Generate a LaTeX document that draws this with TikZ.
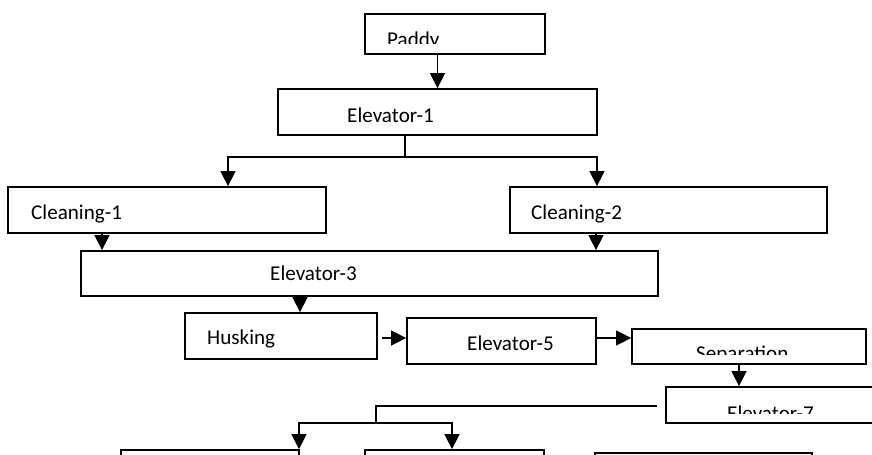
\documentclass[tikz,border=0pt]{standalone}
\usepackage{fontspec}
\setmainfont{Carlito}
\usepackage{tikz}
\usetikzlibrary{arrows.meta,positioning}
\tikzstyle{box} = [draw, line width=1.5pt, inner sep=0pt, minimum height=1.38cm]
\tikzstyle{lbl} = [inner sep=0pt, anchor=base west, font=\fontsize{18}{22}\selectfont]
\tikzstyle{arrow} = [line width=1.2pt, -{Triangle[length=0.45cm,width=0.45cm]}]
\tikzstyle{line} = [line width=1.2pt]

\begin{document}
\begin{tikzpicture}[x=0.03cm, y=-0.03cm]
\useasboundingbox (0,0) rectangle (872,455);
\clip (0,0) rectangle (872,455);

% Top
\node[box, minimum width=5.4cm, minimum height=1.2cm] (paddy) at (455,34) {};
\node[box, minimum width=9.57cm] (elev1) at (437.5,112) {};

% Cleaning
\node[box, minimum width=9.54cm] (clean1) at (167,210) {};
\node[box, minimum width=9.51cm] (clean2) at (668.5,210) {};
\node[box, minimum width=17.31cm, minimum height=1.35cm] (elev3) at (369.5,273.5) {};

% Husking line
\node[box, minimum width=5.76cm] (husk) at (281,336) {};
\node[box, minimum width=5.67cm] (elev5) at (501.5,341) {};
\node[box, minimum width=7.02cm, minimum height=1.05cm] (sep) at (749,346.5) {};
\node[box, minimum width=7.02cm, minimum height=1.08cm] (elev7) at (783,405) {};

% Bottom (cut off)
\node[box, minimum width=5.34cm] (out1) at (210,473) {};
\node[box, minimum width=5.37cm] (out2) at (454.5,473) {};
\node[box, minimum width=6.51cm] (out3) at (703.5,476) {};

% Labels
\node[lbl] (elev1txt) at (347,123) {Elevator-1};
\node[lbl] (clean1txt) at (31,219) {Cleaning-1};
\node[lbl] (clean2txt) at (531,219) {Cleaning-2};
\node[lbl] (elev3txt) at (270,280) {Elevator-3};
\node[lbl] (husktxt) at (207,344) {Husking};
\node[lbl] (elev5txt) at (467,350) {Elevator-5};

\begin{scope}
\clip (paddy.north west) rectangle (paddy.east |- 0,44);
\node[lbl] (paddytxt) at (387,46.6) {Paddy};
\end{scope}
\begin{scope}
\clip (sep.north west) rectangle (sep.east |- 0,354);
\node[lbl] (septxt) at (696,360.6) {Separation};
\end{scope}
\begin{scope}
\clip (elev7.north west) rectangle (elev7.east |- 0,413);
\node[lbl] (elev7txt) at (727,420.6) {Elevator-7};
\end{scope}

% Connections
\coordinate (fork1) at (405,157);
\coordinate (fork2) at (376,423);

\draw[arrow] (paddy.south -| elev1.north) -- (elev1.north);
\draw[line] (elev1.south -| fork1) -- (fork1);
\draw[arrow] (fork1) -| (228,0 |- clean1.north);
\draw[arrow] (fork1) -| (597,0 |- clean2.north);

\draw[arrow] (102,0 |- clean1.south) -- (102,0 |- elev3.north);
\draw[arrow] (596,0 |- clean2.south) -- (596,0 |- elev3.north);
\draw[arrow] (300,0 |- elev3.south) -- (300,0 |- husk.north);

\draw[arrow, shorten <=0.12cm] (husk.east |- 0,338) -- (elev5.west |- 0,338);
\draw[arrow] (elev5.east |- 0,338) -- (sep.west |- 0,338);
\draw[arrow] (739,0 |- sep.south) -- (739,0 |- elev7.north);

\draw[line, shorten <=0.24cm] (elev7.west |- 0,406) -| (fork2);
\draw[arrow] (fork2) -| (299,0 |- out1.north);
\draw[arrow] (fork2) -| (452,0 |- out2.north);
\end{tikzpicture}
\end{document}
